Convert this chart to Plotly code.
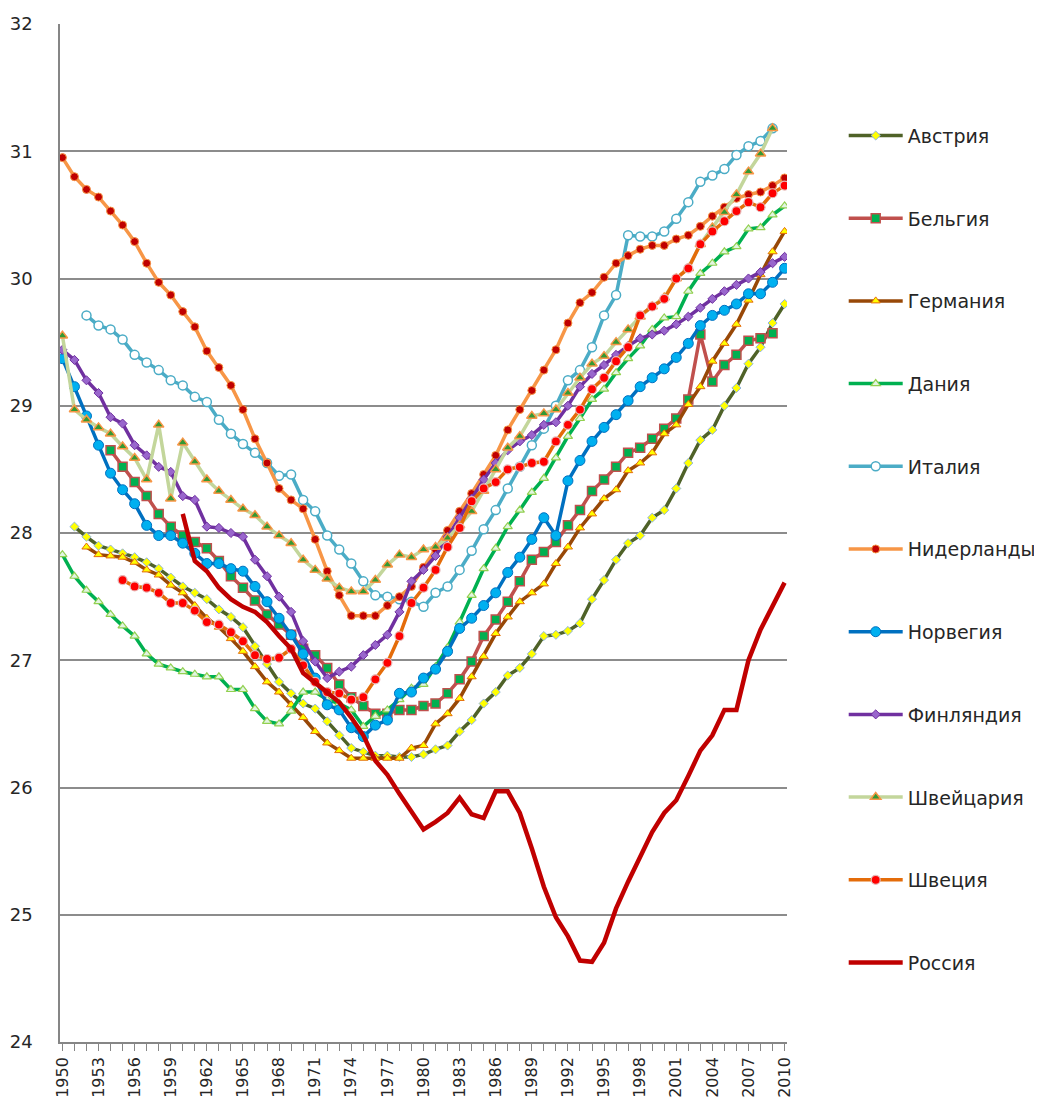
import plotly.graph_objects as go

years = list(range(1950, 2011))
N = None

austria = [N, 28.05, 27.97, 27.90, 27.87, 27.84, 27.81, 27.77, 27.72, 27.65,
           27.58, 27.53, 27.48, 27.40, 27.34, 27.26, 27.11, 26.97, 26.83, 26.74,
           26.66, 26.62, 26.52, 26.41, 26.31, 26.28, 26.25, 26.25, 26.24, 26.24,
           26.26, 26.30, 26.33, 26.44, 26.53, 26.66, 26.75, 26.88, 26.94, 27.05,
           27.19, 27.20, 27.23, 27.29, 27.48, 27.63, 27.79, 27.92, 27.98, 28.12,
           28.18, 28.35, 28.55, 28.73, 28.81, 29.00, 29.14, 29.33, 29.46, 29.65,
           29.80]
belgium = [N, N, N, N, 28.65, 28.52, 28.40, 28.29, 28.15, 28.05,
           27.98, 27.93, 27.88, 27.78, 27.66, 27.57, 27.47, 27.36, 27.28, 27.20,
           27.09, 27.04, 26.94, 26.81, 26.71, 26.64, 26.58, 26.58, 26.61, 26.61,
           26.64, 26.66, 26.74, 26.85, 26.99, 27.19, 27.32, 27.46, 27.62, 27.79,
           27.85, 27.93, 28.06, 28.18, 28.33, 28.42, 28.52, 28.63, 28.67, 28.74,
           28.82, 28.90, 29.05, 29.56, 29.19, 29.32, 29.40, 29.51, 29.53, 29.57,
           N]
germany = [N, N, 27.89, 27.83, 27.82, 27.81, 27.77, 27.71, 27.67, 27.59,
           27.53, 27.43, 27.33, 27.26, 27.17, 27.07, 26.95, 26.83, 26.75, 26.65,
           26.55, 26.44, 26.35, 26.29, 26.23, 26.23, 26.23, 26.23, 26.23, 26.31,
           26.33, 26.50, 26.58, 26.70, 26.87, 27.03, 27.21, 27.34, 27.46, 27.53,
           27.60, 27.76, 27.89, 28.04, 28.15, 28.27, 28.34, 28.49, 28.55, 28.63,
           28.78, 28.85, 29.01, 29.15, 29.35, 29.49, 29.64, 29.83, 30.03, 30.21,
           30.37]
denmark = [27.83, 27.66, 27.55, 27.46, 27.36, 27.27, 27.19, 27.05, 26.97, 26.94,
           26.91, 26.89, 26.87, 26.87, 26.77, 26.77, 26.62, 26.52, 26.50, 26.60,
           26.75, 26.75, 26.69, 26.66, 26.61, 26.48, 26.56, 26.61, 26.69, 26.78,
           26.81, 26.95, 27.10, 27.30, 27.51, 27.72, 27.88, 28.05, 28.18, 28.32,
           28.43, 28.59, 28.76, 28.90, 29.05, 29.13, 29.26, 29.37, 29.47, 29.60,
           29.69, 29.70, 29.90, 30.04, 30.12, 30.21, 30.25, 30.39, 30.40, 30.50,
           30.57]
italy = [N, N, 29.71, 29.63, 29.60, 29.52, 29.40, 29.34, 29.28, 29.20,
         29.16, 29.07, 29.03, 28.89, 28.78, 28.70, 28.63, 28.55, 28.45, 28.46,
         28.26, 28.17, 27.98, 27.87, 27.76, 27.62, 27.51, 27.50, 27.48, 27.46,
         27.42, 27.53, 27.58, 27.71, 27.86, 28.03, 28.18, 28.35, 28.52, 28.69,
         28.82, 29.00, 29.20, 29.28, 29.46, 29.71, 29.87, 30.34, 30.33, 30.33,
         30.37, 30.47, 30.60, 30.76, 30.81, 30.86, 30.97, 31.04, 31.08, 31.18,
         N]
netherlands = [30.95, 30.80, 30.70, 30.64, 30.53, 30.42, 30.29, 30.12, 29.97, 29.87,
               29.74, 29.62, 29.43, 29.30, 29.16, 28.97, 28.74, 28.55, 28.35, 28.26,
               28.19, 27.95, 27.70, 27.51, 27.35, 27.35, 27.35, 27.43, 27.50, 27.58,
               27.73, 27.87, 28.02, 28.17, 28.31, 28.46, 28.61, 28.81, 28.97, 29.12,
               29.28, 29.44, 29.65, 29.81, 29.89, 30.01, 30.12, 30.18, 30.23, 30.26,
               30.26, 30.31, 30.34, 30.41, 30.49, 30.56, 30.63, 30.66, 30.68, 30.73,
               30.79]
norway = [29.37, 29.15, 28.92, 28.69, 28.47, 28.34, 28.23, 28.06, 27.98, 27.98,
          27.92, 27.84, 27.76, 27.76, 27.72, 27.70, 27.58, 27.46, 27.33, 27.20,
          27.05, 26.86, 26.65, 26.61, 26.47, 26.40, 26.49, 26.53, 26.74, 26.75,
          26.86, 26.93, 27.07, 27.25, 27.33, 27.43, 27.53, 27.69, 27.81, 27.95,
          28.12, 27.98, 28.41, 28.57, 28.72, 28.83, 28.93, 29.04, 29.15, 29.22,
          29.29, 29.38, 29.49, 29.63, 29.71, 29.75, 29.80, 29.88, 29.88, 29.97,
          30.08]
finland = [29.44, 29.36, 29.20, 29.10, 28.91, 28.86, 28.69, 28.61, 28.52, 28.48,
           28.29, 28.26, 28.05, 28.04, 28.00, 27.97, 27.79, 27.66, 27.50, 27.38,
           27.15, 26.99, 26.86, 26.91, 26.95, 27.04, 27.12, 27.20, 27.38, 27.62,
           27.71, 27.82, 27.97, 28.12, 28.27, 28.42, 28.55, 28.65, 28.72, 28.77,
           28.85, 28.87, 29.00, 29.15, 29.25, 29.32, 29.40, 29.47, 29.53, 29.56,
           29.59, 29.64, 29.70, 29.77, 29.84, 29.90, 29.95, 30.00, 30.05, 30.12,
           30.17]
switzerland = [29.55, 28.97, 28.89, 28.83, 28.78, 28.68, 28.59, 28.42, 28.85, 28.27,
               28.71, 28.56, 28.42, 28.33, 28.26, 28.19, 28.14, 28.05, 27.98, 27.92,
               27.79, 27.71, 27.64, 27.57, 27.54, 27.54, 27.63, 27.75, 27.83, 27.81,
               27.87, 27.89, 27.96, 28.06, 28.17, 28.33, 28.50, 28.67, 28.76, 28.92,
               28.94, 28.97, 29.10, 29.22, 29.33, 29.39, 29.50, 29.60, 29.70, 29.78,
               29.85, 30.00, 30.08, 30.27, 30.40, 30.52, 30.66, 30.84, 30.98, 31.18,
               N]
sweden = [N, N, N, N, N, 27.63, 27.58, 27.57, 27.53, 27.45,
          27.45, 27.39, 27.30, 27.28, 27.22, 27.15, 27.04, 27.01, 27.02, 27.09,
          26.96, 26.83, 26.75, 26.74, 26.69, 26.71, 26.85, 26.98, 27.19, 27.45,
          27.57, 27.71, 27.89, 28.04, 28.25, 28.35, 28.40, 28.50, 28.52, 28.55,
          28.56, 28.72, 28.85, 28.97, 29.13, 29.22, 29.35, 29.46, 29.71, 29.78,
          29.84, 30.00, 30.08, 30.27, 30.37, 30.45, 30.53, 30.60, 30.56, 30.67,
          30.73]
russia = [N, N, N, N, N, N, N, N, N, N,
          28.15, 27.78, 27.70, 27.57, 27.48, 27.42, 27.38, 27.30, 27.19, 27.09,
          26.90, 26.82, 26.75, 26.67, 26.55, 26.41, 26.21, 26.10, 25.95, 25.81,
          25.67, 25.73, 25.80, 25.92, 25.79, 25.76, 25.97, 25.97, 25.80, 25.52,
          25.22, 24.98, 24.83, 24.64, 24.63, 24.78, 25.05, 25.26, 25.46, 25.65,
          25.80, 25.90, 26.09, 26.29, 26.41, 26.61, 26.61, 27.00, 27.24, 27.42,
          27.61]

series = [
    ("Австрия", austria, "#4F6228", 3.5, dict(symbol="diamond", size=7, color="#FFFF00", line=dict(color="#8DB4E2", width=1))),
    ("Бельгия", belgium, "#C0504D", 3.5, dict(symbol="square", size=9, color="#00B050", line=dict(color="#C0504D", width=1.5))),
    ("Германия", germany, "#984807", 3.5, dict(symbol="triangle-up", size=8, color="#FFFF00", line=dict(color="#E46C0A", width=1))),
    ("Дания", denmark, "#00B050", 3.5, dict(symbol="triangle-up", size=8, color="#E2F5E2", line=dict(color="#92D050", width=1.2))),
    ("Италия", italy, "#4BACC6", 3.5, dict(symbol="circle", size=9, color="#FFFFFF", line=dict(color="#4BACC6", width=1.5))),
    ("Нидерланды", netherlands, "#F79646", 3.5, dict(symbol="circle", size=8, color="#C00000", line=dict(color="#F79646", width=1))),
    ("Норвегия", norway, "#0070C0", 3.5, dict(symbol="circle", size=10, color="#00B0F0", line=dict(color="#0070C0", width=1))),
    ("Финляндия", finland, "#7030A0", 3.5, dict(symbol="diamond", size=7, color="#9966CC", line=dict(color="#7030A0", width=1))),
    ("Швейцария", switzerland, "#C3D69B", 3.5, dict(symbol="triangle-up", size=9, color="#339933", line=dict(color="#F79646", width=1.5))),
    ("Швеция", sweden, "#E46C0A", 3.5, dict(symbol="circle", size=9, color="#FF0000", line=dict(color="#E6B9B8", width=1.2))),
    ("Россия", russia, "#C00000", 4.5, None),
]

fig = go.Figure()
for i, (name, vals, col, w, mk) in enumerate(series):
    kw = dict(x=years, y=vals, name=name, legendgroup=f"g{i}",
              line=dict(color=col, width=w), connectgaps=False)
    if mk is None:
        kw["mode"] = "lines"
    else:
        kw["mode"] = "lines+markers"
        kw["marker"] = mk
    fig.add_trace(go.Scatter(**kw))

fig.update_layout(
    width=1034, height=1105,
    margin=dict(l=52, r=255, t=16, b=71, autoexpand=False),
    plot_bgcolor="white", paper_bgcolor="white",
    font=dict(family="DejaVu Sans, Verdana, sans-serif", size=17, color="#262626"),
    legend=dict(x=1.078, y=0.909, xanchor="left", yanchor="top",
                tracegroupgap=55, itemwidth=54,
                font=dict(size=19, color="#262626"),
                bgcolor="rgba(0,0,0,0)"),
    showlegend=True,
)
fig.update_xaxes(range=[1949.8, 2010.2], tickmode="linear", tick0=1950, dtick=3,
                 tickangle=-90, ticks="outside", ticklen=7, tickcolor="#868686",
                 showline=True, linecolor="#868686", linewidth=1.5, showgrid=False,
                 zeroline=False, tickfont=dict(size=16), automargin=False,
                 minor=dict(dtick=1, ticks="outside", ticklen=7, tickcolor="#868686", showgrid=False))
fig.update_yaxes(range=[24, 32], dtick=1, showgrid=True, gridcolor="#8C8C8C", gridwidth=1.5,
                 showline=True, linecolor="#868686", linewidth=1.5, zeroline=False,
                 ticks="", tickfont=dict(size=18), ticklabelstandoff=22, automargin=False)

fig.write_html("out.html")
